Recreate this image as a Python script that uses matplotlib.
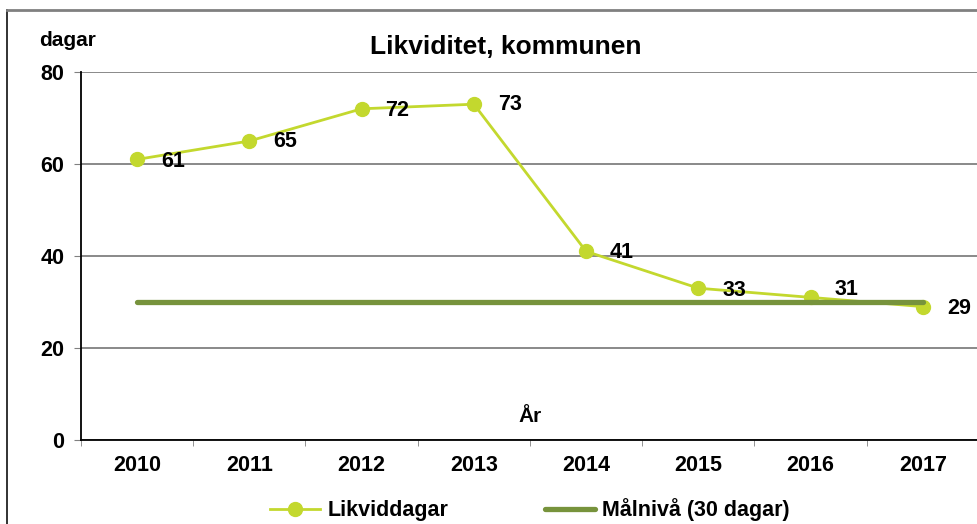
import numpy as np
import matplotlib.pyplot as plt
from matplotlib.lines import Line2D

plt.rcParams['font.family'] = ['Liberation Sans', 'DejaVu Sans']
plt.rcParams['font.weight'] = 'bold'

years = ['2010', '2011', '2012', '2013', '2014', '2015', '2016', '2017']
likviddagar = [61, 65, 72, 73, 41, 33, 31, 29]
malniva = [30, 30, 30, 30, 30, 30, 30, 30]
label_dy = [-2, -1, -2, 0, -1, -2, 8, -2]

W, H = 978, 524
fig = plt.figure(figsize=(W / 100, H / 100), dpi=100)
ax = fig.add_axes([81 / W, 1 - 440 / H, 898 / W, 368 / H])

x = np.arange(len(years))
ax.plot(x, likviddagar, color='#C3D82E', lw=2, marker='o', ms=10,
        zorder=3, label='Likviddagar')
ax.plot(x, malniva, color='#77933C', lw=3.8, solid_capstyle='round',
        zorder=4, label='Målnivå (30 dagar)')

for xi, v, dy in zip(x, likviddagar, label_dy):
    ax.annotate(str(v), xy=(xi, v), xytext=(24, dy), textcoords='offset pixels',
                ha='left', va='center', fontsize=15.5, fontweight='bold')

ax.set_xlim(-0.5, 7.5)
ax.set_ylim(0, 80)
ax.set_yticks([0, 20, 40, 60, 80])
ax.set_xticks(x)
ax.set_xticklabels(years)
ax.set_xticks(np.arange(-0.5, 8, 1), minor=True)
ax.tick_params(axis='x', which='major', length=0, pad=11, labelsize=15.5)
ax.tick_params(axis='x', which='minor', length=4, color='#808080', direction='out')
ax.tick_params(axis='y', length=5, color='#808080', pad=7, labelsize=15.5)
for lab in ax.get_xticklabels() + ax.get_yticklabels():
    lab.set_fontweight('bold')

ax.grid(axis='y', color='#808080', lw=1.3)
ax.set_axisbelow(True)
for s in ['top', 'right']:
    ax.spines[s].set_visible(False)
ax.spines['left'].set_color('black')
ax.spines['bottom'].set_color('black')
ax.spines['left'].set_linewidth(1.3)
ax.spines['bottom'].set_linewidth(1.3)

ax.text(3.5, 5, 'År', ha='center', va='center', fontsize=15, fontweight='bold')
fig.text(39 / W, 1 - 40 / H, 'dagar', ha='left', va='center', fontsize=15, fontweight='bold')
fig.text(506 / W, 1 - 47 / H, 'Likviditet, kommunen', ha='center', va='center',
         fontsize=19, fontweight='bold')

# outer chart frame (cropped)
fig.add_artist(Line2D([7 / W, 7 / W], [0, 1 - 10 / H], transform=fig.transFigure,
                      color='#222222', lw=1.3))
fig.add_artist(Line2D([7 / W, 1], [1 - 10 / H, 1 - 10 / H], transform=fig.transFigure,
                      color='#808080', lw=2))

fig.legend(loc='center', bbox_to_anchor=(530 / W, 1 - 510 / H), ncol=2, frameon=False,
           prop={'weight': 'bold', 'size': 15.5}, handlelength=2.3, handletextpad=0.35,
           columnspacing=4.5)

fig.savefig('out.png', dpi=100)
